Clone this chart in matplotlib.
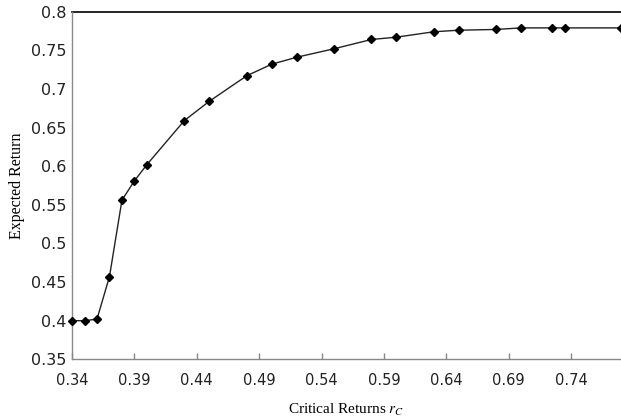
import matplotlib
matplotlib.use("Agg")
import matplotlib.pyplot as plt

plt.rcParams["mathtext.fontset"] = "stix"

critical_returns = [0.34, 0.35, 0.36, 0.37, 0.38, 0.39, 0.40, 0.43, 0.45, 0.48, 0.50,
                    0.52, 0.55, 0.58, 0.60, 0.63, 0.65, 0.68, 0.70, 0.725, 0.735, 0.78]
expected_return = [0.400, 0.400, 0.402, 0.457, 0.556, 0.581, 0.602, 0.659, 0.684, 0.717, 0.732,
                   0.741, 0.752, 0.764, 0.767, 0.774, 0.776, 0.777, 0.779, 0.779, 0.779, 0.779]
x_ticks = [0.34, 0.39, 0.44, 0.49, 0.54, 0.59, 0.64, 0.69, 0.74]
x_tick_labels = ["0.34", "0.39", "0.44", "0.49", "0.54", "0.59", "0.64", "0.69", "0.74"]
y_ticks = [0.35, 0.40, 0.45, 0.50, 0.55, 0.60, 0.65, 0.70, 0.75, 0.80]
y_tick_labels = ["0.35", "0.4", "0.45", "0.5", "0.55", "0.6", "0.65", "0.7", "0.75", "0.8"]

fig = plt.figure(figsize=(6.21, 4.2), dpi=100)
ax = fig.add_axes([0.116, 0.1445, 0.884, 0.8277])

ax.plot(critical_returns, expected_return, color="#222222", linewidth=1.0,
        marker="D", markersize=4.0, markerfacecolor="black", markeredgecolor="black",
        clip_on=False, zorder=3)

ax.set_xlim(0.34, 0.78)
ax.set_ylim(0.35, 0.80)
ax.set_xticks(x_ticks)
ax.set_xticklabels(x_tick_labels)
ax.set_yticks(y_ticks)
ax.set_yticklabels(y_tick_labels)

for lab in ax.get_xticklabels():
    lab.set_fontfamily("DejaVu Sans")
    lab.set_fontsize(10.5)
    lab.set_color("#222222")
for lab in ax.get_yticklabels():
    lab.set_fontfamily("DejaVu Sans")
    lab.set_fontsize(11.5)
    lab.set_color("#222222")

ax.tick_params(axis="x", direction="in", length=4, width=1, color="#888888", pad=10)
ax.tick_params(axis="y", length=0, pad=4)

ax.spines["right"].set_visible(False)
ax.spines["top"].set_visible(False)
ax.spines["left"].set_color("#888888")
ax.spines["bottom"].set_color("#888888")
ax.spines["left"].set_linewidth(1.0)
ax.spines["bottom"].set_linewidth(1.0)
ax.axhline(0.80, color="black", linewidth=1.2, zorder=2, clip_on=False)

ax.set_xlabel(r"Critical Returns $r_C$", fontfamily="Liberation Serif", fontsize=11,
              labelpad=10)
ax.set_ylabel("Expected Return", fontfamily="Liberation Serif", fontsize=11.5, labelpad=4)

fig.savefig("out.png", dpi=100)
